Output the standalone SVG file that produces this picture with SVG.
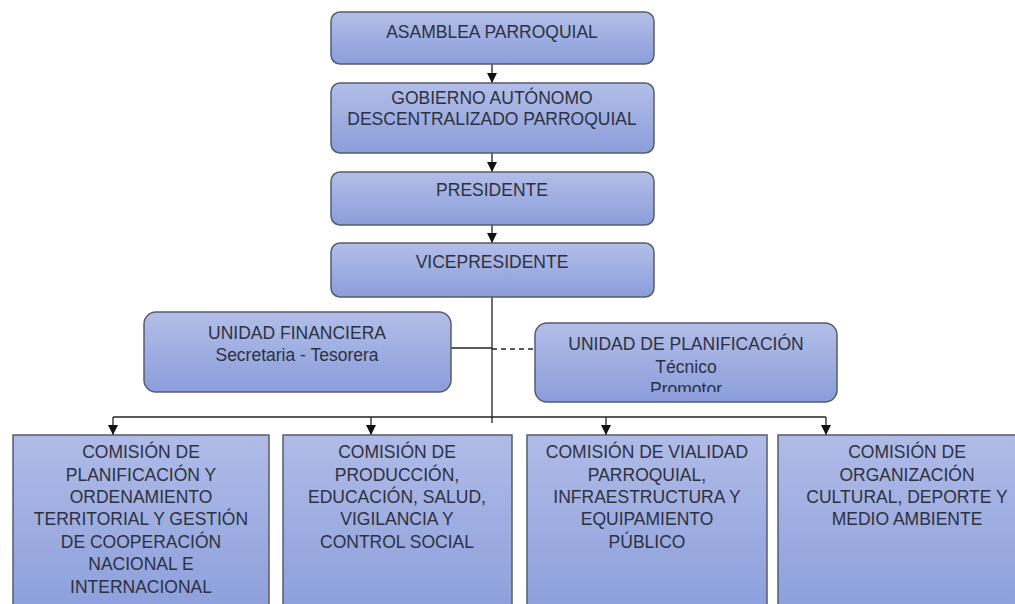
<svg xmlns="http://www.w3.org/2000/svg" width="1015" height="604" viewBox="0 0 1015 604">
<defs>
<linearGradient id="g" x1="0" y1="0" x2="0" y2="1">
<stop offset="0" stop-color="#b3bee8"/>
<stop offset="1" stop-color="#8b9ddb"/>
</linearGradient>
<linearGradient id="gb" x1="0" y1="0" x2="0" y2="1">
<stop offset="0" stop-color="#b0bbe7"/>
<stop offset="1" stop-color="#8c9fdc"/>
</linearGradient>
<marker id="arr" viewBox="0 0 10 10" refX="10" refY="5" markerWidth="10" markerHeight="10" markerUnits="userSpaceOnUse" orient="auto">
<path d="M0,0 L10,5 L0,10 Z" fill="#111"/>
</marker>
<clipPath id="clipPlan"><rect x="535" y="323" width="302" height="69"/></clipPath>
</defs>
<style>
.box{fill:url(#g);stroke:#555c6b;stroke-width:1.5}
.sq{fill:url(#gb);stroke:#555c6b;stroke-width:1.5}
.t{font-family:"Liberation Sans",Arial,sans-serif;font-size:17.5px;fill:#2c3140;text-anchor:middle}
.c{stroke:#222;stroke-width:1.3;fill:none}
.d{stroke:#222;stroke-width:1.3;fill:none;stroke-dasharray:5,4}
</style>
<rect width="1015" height="604" fill="#ffffff"/>
<g id="connectors">
<line class="c" x1="492" y1="64" x2="492" y2="83" marker-end="url(#arr)"/>
<line class="c" x1="492" y1="153" x2="492" y2="172" marker-end="url(#arr)"/>
<line class="c" x1="492" y1="225" x2="492" y2="243" marker-end="url(#arr)"/>
<line class="c" x1="492" y1="297" x2="492" y2="423"/>
<line class="c" x1="451" y1="348" x2="492" y2="348"/>
<line class="d" x1="492" y1="349" x2="535" y2="349"/>
<line class="c" x1="113" y1="417" x2="826" y2="417"/>
<line class="c" x1="113" y1="417" x2="113" y2="435" marker-end="url(#arr)"/>
<line class="c" x1="371" y1="417" x2="371" y2="435" marker-end="url(#arr)"/>
<line class="c" x1="606" y1="417" x2="606" y2="435" marker-end="url(#arr)"/>
<line class="c" x1="826" y1="417" x2="826" y2="435" marker-end="url(#arr)"/>
</g>
<g id="asamblea">
<rect class="box" x="331" y="12" width="323" height="52" rx="9"/>
<text class="t" x="492" y="38">ASAMBLEA PARROQUIAL</text>
</g>
<g id="gobierno">
<rect class="box" x="331" y="83" width="323" height="70" rx="9"/>
<text class="t" x="492" y="104">GOBIERNO AUTÓNOMO</text>
<text class="t" x="492" y="125">DESCENTRALIZADO PARROQUIAL</text>
</g>
<g id="presidente">
<rect class="box" x="331" y="172" width="323" height="53" rx="9"/>
<text class="t" x="492" y="196">PRESIDENTE</text>
</g>
<g id="vicepresidente">
<rect class="box" x="331" y="243" width="323" height="54" rx="9"/>
<text class="t" x="492" y="268">VICEPRESIDENTE</text>
</g>
<g id="unidad-financiera">
<rect class="box" x="144" y="312" width="307" height="80" rx="12"/>
<text class="t" x="297" y="339">UNIDAD FINANCIERA</text>
<text class="t" x="297" y="361">Secretaria - Tesorera</text>
</g>
<g id="unidad-planificacion">
<rect class="box" x="535" y="323" width="302" height="79" rx="12"/>
<g clip-path="url(#clipPlan)">
<text class="t" x="686" y="350">UNIDAD DE PLANIFICACIÓN</text>
<text class="t" x="686" y="373">Técnico</text>
<text class="t" x="686" y="395">Promotor</text>
</g>
</g>
<g id="comision-planificacion">
<rect class="sq" x="13" y="435" width="256" height="180"/>
<text class="t" x="141" y="458">COMISIÓN DE</text>
<text class="t" x="141" y="481">PLANIFICACIÓN Y</text>
<text class="t" x="141" y="503">ORDENAMIENTO</text>
<text class="t" x="141" y="525">TERRITORIAL Y GESTIÓN</text>
<text class="t" x="141" y="548">DE COOPERACIÓN</text>
<text class="t" x="141" y="570">NACIONAL E</text>
<text class="t" x="141" y="593">INTERNACIONAL</text>
</g>
<g id="comision-produccion">
<rect class="sq" x="283" y="435" width="229" height="180"/>
<text class="t" x="397" y="458">COMISIÓN DE</text>
<text class="t" x="397" y="481">PRODUCCIÓN,</text>
<text class="t" x="397" y="503">EDUCACIÓN, SALUD,</text>
<text class="t" x="397" y="525">VIGILANCIA Y</text>
<text class="t" x="397" y="548">CONTROL SOCIAL</text>
</g>
<g id="comision-vialidad">
<rect class="sq" x="527" y="435" width="240" height="180"/>
<text class="t" x="647" y="458">COMISIÓN DE VIALIDAD</text>
<text class="t" x="647" y="481">PARROQUIAL,</text>
<text class="t" x="647" y="503">INFRAESTRUCTURA Y</text>
<text class="t" x="647" y="525">EQUIPAMIENTO</text>
<text class="t" x="647" y="548">PÚBLICO</text>
</g>
<g id="comision-organizacion">
<rect class="sq" x="778" y="435" width="260" height="180"/>
<text class="t" x="907" y="458">COMISIÓN DE</text>
<text class="t" x="907" y="481">ORGANIZACIÓN</text>
<text class="t" x="907" y="503">CULTURAL, DEPORTE Y</text>
<text class="t" x="907" y="525">MEDIO AMBIENTE</text>
</g>
</svg>
